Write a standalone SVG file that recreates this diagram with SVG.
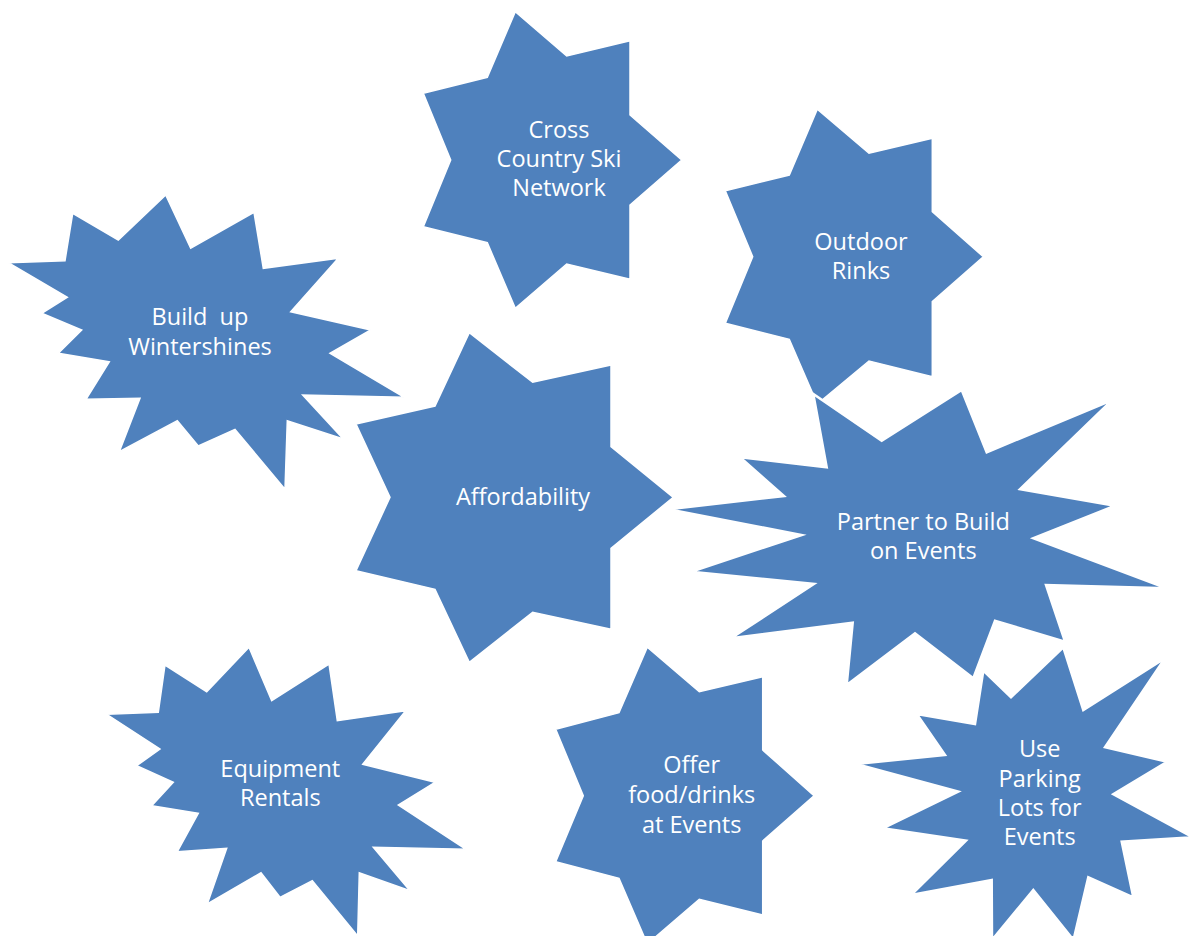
<svg xmlns="http://www.w3.org/2000/svg" width="1193" height="936" viewBox="0 0 1193 936">
<style>
.shape{fill:#4F81BD;stroke:#FFFFFF;stroke-width:1.5;stroke-linejoin:miter}
.lbl{font-family:"Open Sans","Liberation Sans",sans-serif;font-size:23.5px;fill:#FFFFFF;text-anchor:middle}
</style>
<rect width="1193" height="936" fill="#FFFFFF"/>
<g id="connectors"></g>
<g id="node-cross-country">
<polygon class="shape" points="515.3,11.7 566.7,56 630,40.7 630,115 681.7,160 630,205 630,279.3 566.7,264 515.3,308.3 487.3,242.7 423.3,226.7 450.7,160 423.3,93.3 487.3,77.3"/>
<text class="lbl" x="559" y="137.5">Cross</text>
<text class="lbl" x="559" y="166.8">Country Ski</text>
<text class="lbl" x="559" y="196">Network</text>
</g>
<g id="node-outdoor-rinks">
<polygon class="shape" points="817.3,109.3 869,153.3 932.3,138.3 932.3,211.7 983.3,256.7 932.3,301.7 932.3,376.7 869,361 817.3,404 789.3,339.3 725.3,323.3 752.7,256.7 725.3,190.7 789.3,175"/>
<text class="lbl" x="861" y="249.5">Outdoor</text>
<text class="lbl" x="861" y="279">Rinks</text>
</g>
<g id="node-build-up">
<polygon class="shape" points="165.7,195 190.7,248.3 254,212.3 263.3,268.3 338.3,258.3 290.7,311.7 370.7,330 330,353.3 404.3,397.3 302.7,395 343.3,439 287.3,420.7 285,489.3 235,429.3 198.3,446 177.3,420.7 119.3,451.7 140,398.3 86,399.3 109.3,361.7 58.3,353.3 81.7,330 41.7,313.3 67.3,297.3 8.3,262.7 65,260.7 72.7,213.3 118.3,240"/>
<text class="lbl" x="200" y="325" xml:space="preserve">Build  up</text>
<text class="lbl" x="200" y="355">Wintershines</text>
</g>
<g id="node-affordability">
<polygon class="shape" points="469.3,332.7 532.7,382.3 611,365 611,446.7 673.3,497.3 611,548.3 611,629.3 532.7,612.3 469.3,662.3 435,589.3 356,570.7 390,497.3 356,424 435,406"/>
<text class="lbl" x="523" y="505">Affordability</text>
</g>
<g id="node-partner">
<polygon class="shape" style="stroke-width:2.5" points="961.7,390 986.7,452.3 1112.3,400 1020,489.3 1115,505.7 1033.3,538.3 1166.7,588.3 1046,585 1065,641.7 995,620.7 973.3,678.3 915,633.3 846.7,685 852.7,622.7 731,638.3 814,584 691,571.7 801.7,535 668.3,509.3 784,496 740,457.3 826.7,467.3 813.3,394 881.7,440.7"/>
<text class="lbl" x="923.3" y="530">Partner to Build</text>
<text class="lbl" x="923.3" y="559.3">on Events</text>
</g>
<g id="node-equipment">
<polygon class="shape" points="249,647.3 271.7,700.7 329,664 337.3,720.7 405.7,710.7 362.7,764.3 435,782.3 398.3,805 466,849.3 373.3,847.3 410,890.7 359.3,872.7 357.7,936 312.3,880.7 280,897.3 261,872.7 207.3,904 226.7,848.3 177.3,851.7 198.3,813.3 151.7,805.7 173.3,782.3 136.7,765.7 160,749 106.7,714.3 158.3,712.3 165,665 206.7,691.7"/>
<text class="lbl" x="280.3" y="776.7">Equipment</text>
<text class="lbl" x="280.3" y="805.7">Rentals</text>
</g>
<g id="node-offer-food">
<polygon class="shape" points="647.3,647.3 699.3,691.7 762.7,676.7 762.7,750 814,795.7 762.7,841 762.7,915 699.3,899.3 647.3,944 619,878.3 555.7,861.7 583.3,795.7 555.7,729.3 619,712.7"/>
<text class="lbl" x="691.7" y="773.3">Offer</text>
<text class="lbl" x="691.7" y="802.7">food/drinks</text>
<text class="lbl" x="691.7" y="832.7">at Events</text>
</g>
<g id="node-parking">
<polygon class="shape" style="stroke-width:2.5" points="1063.3,647.3 1083.3,710 1165,658.3 1105,747.3 1167.3,761.7 1113.3,794.3 1193,837.3 1121.7,841.7 1133.3,897.3 1088.3,877.3 1073.5,940 1033.3,890 992,940 991.7,880 911,895 966,840.7 882.7,828.3 958.3,791.7 856,764 945,755 916.7,714 975,724 983.3,670.7 1011,697.3"/>
<text class="lbl" x="1039.7" y="756.7">Use</text>
<text class="lbl" x="1039.7" y="786.7">Parking</text>
<text class="lbl" x="1039.7" y="815.7">Lots for</text>
<text class="lbl" x="1039.7" y="844.7">Events</text>
</g>
</svg>
